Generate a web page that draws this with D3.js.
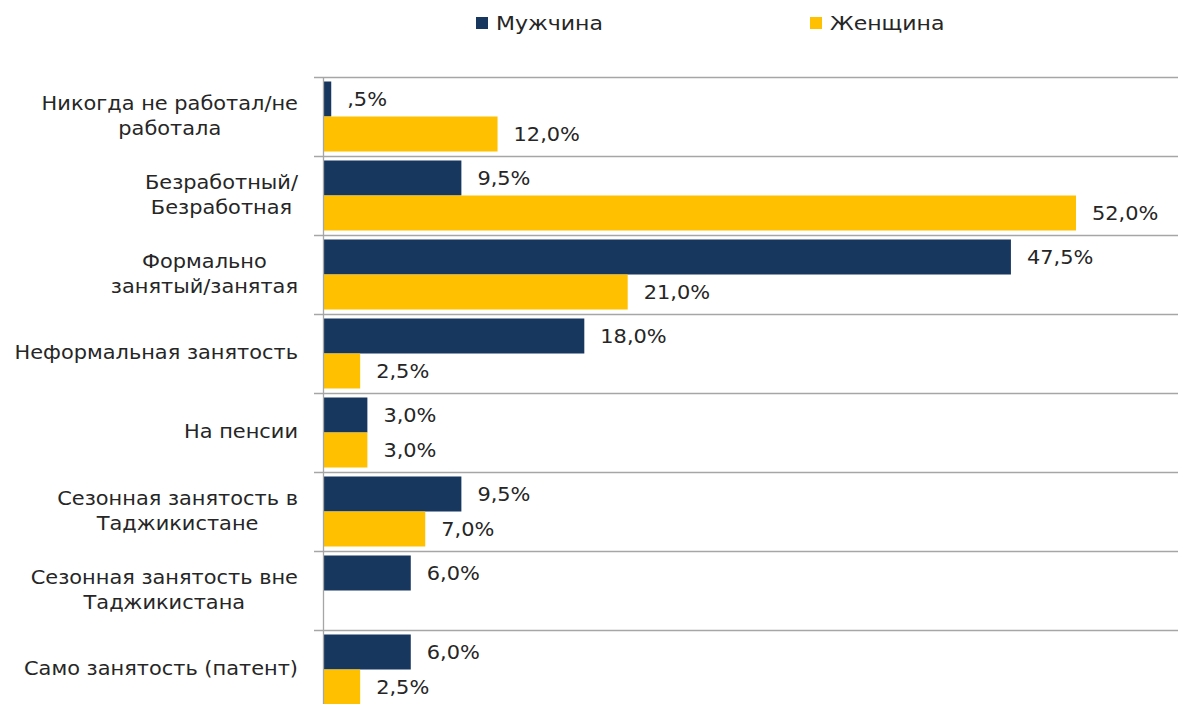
<!DOCTYPE html>
<html>
<head>
<meta charset="utf-8">
<script src="https://cdn.jsdelivr.net/npm/d3@7"></script>
<style>
  body { margin: 0; background: #fff; }
  svg { display: block; font-family: 'DejaVu Sans', sans-serif; }
</style>
</head>
<body>
<div id="chart"></div>
<script>
// categories, each one split into display lines
const categories = [
  ['Никогда не работал/не', 'работала'],
  ['Безработный/', 'Безработная'],
  ['Формально', 'занятый/занятая'],
  ['Неформальная занятость'],
  ['На пенсии'],
  ['Сезонная занятость в', 'Таджикистане'],
  ['Сезонная занятость вне', 'Таджикистана'],
  ['Само занятость (патент)']
]
const seriesNames = ['Мужчина', 'Женщина']
const male = [0.5, 9.5, 47.5, 18.0, 3.0, 9.5, 6.0, 6.0]
const female = [12.0, 52.0, 21.0, 2.5, 3.0, 7.0, null, 2.5]
const colors = ['#17375e', '#ffc000']

const W = 1178, H = 704
const SX = 1.1 // the source text is a little stretched sideways
const svg = d3.select('#chart').append('svg').attr('width', W).attr('height', H)

const keys = categories.map((c, i) => i)
const y = d3.scaleBand().domain(keys).range([77, 77 + 79 * keys.length])
const ySub = d3.scaleBand().domain([0, 1]).range([4.5, y.bandwidth() - 4.5])
const x = d3.scaleLinear().domain([0, 52]).range([324, 1076])

// separators between categories
svg.append('g').selectAll('line')
  .data(d3.range(keys.length + 1))
  .join('line')
  .attr('x1', 314).attr('x2', W)
  .attr('y1', i => Math.round(y.range()[0] + i * y.step()) + 0.5)
  .attr('y2', i => Math.round(y.range()[0] + i * y.step()) + 0.5)
  .attr('stroke', '#a6a6a6').attr('stroke-width', 1.3)

const fmt = v => v < 1 ? ',' + String(v).split('.')[1] + '%' : d3.format('.1f')(v).replace('.', ',') + '%'

const rows = keys.map(i => [male[i], female[i]])
const groups = svg.append('g').selectAll('g')
  .data(rows)
  .join('g')
  .attr('transform', (d, i) => `translate(0,${y(i)})`)

groups.selectAll('rect')
  .data(d => d.map((v, s) => ({ v, s })).filter(e => e.v != null))
  .join('rect')
  .attr('x', x(0))
  .attr('y', e => ySub(e.s))
  .attr('width', e => x(e.v) - x(0))
  .attr('height', ySub.bandwidth())
  .attr('fill', e => colors[e.s])

groups.selectAll('text')
  .data(d => d.map((v, s) => ({ v, s })).filter(e => e.v != null))
  .join('text')
  .attr('transform', e => `translate(${x(e.v) + 16},${ySub(e.s) + ySub.bandwidth() / 2}) scale(${SX},1)`)
  .attr('dy', '0.36em')
  .attr('fill', '#262626')
  .style('font-size', '19px')
  .text(e => fmt(e.v))

// value axis line
svg.append('line')
  .attr('x1', 323.5).attr('x2', 323.5)
  .attr('y1', 77).attr('y2', H)
  .attr('stroke', '#a6a6a6').attr('stroke-width', 1.3)

// category labels: centred block, right edge at 298
const labels = svg.append('g').style('font-size', '19px').attr('fill', '#262626')
categories.forEach((lines, i) => {
  const t = labels.append('text').attr('text-anchor', 'middle')
  const lh = 25
  const y0 = y(i) + y.bandwidth() / 2 - (lines.length - 1) * lh / 2 - 1
  lines.forEach((ln, k) => t.append('tspan').attr('x', 0).attr('y', y0 + k * lh).attr('dy', '0.36em').text(ln))
  let maxW = 0
  t.selectAll('tspan').each(function () { maxW = Math.max(maxW, this.getComputedTextLength()) })
  t.attr('transform', `translate(${298 - maxW * SX / 2},0) scale(${SX},1)`)
})

// legend
const legX = [476, 810]
const leg = svg.append('g')
seriesNames.forEach((n, s) => {
  leg.append('rect').attr('x', legX[s]).attr('y', 17).attr('width', 12).attr('height', 12).attr('fill', colors[s])
  leg.append('text').attr('transform', `translate(${legX[s] + 20},23) scale(${SX},1)`).attr('dy', '0.36em')
    .style('font-size', '20px').attr('fill', '#262626').text(n)
})
</script>
</body>
</html>
